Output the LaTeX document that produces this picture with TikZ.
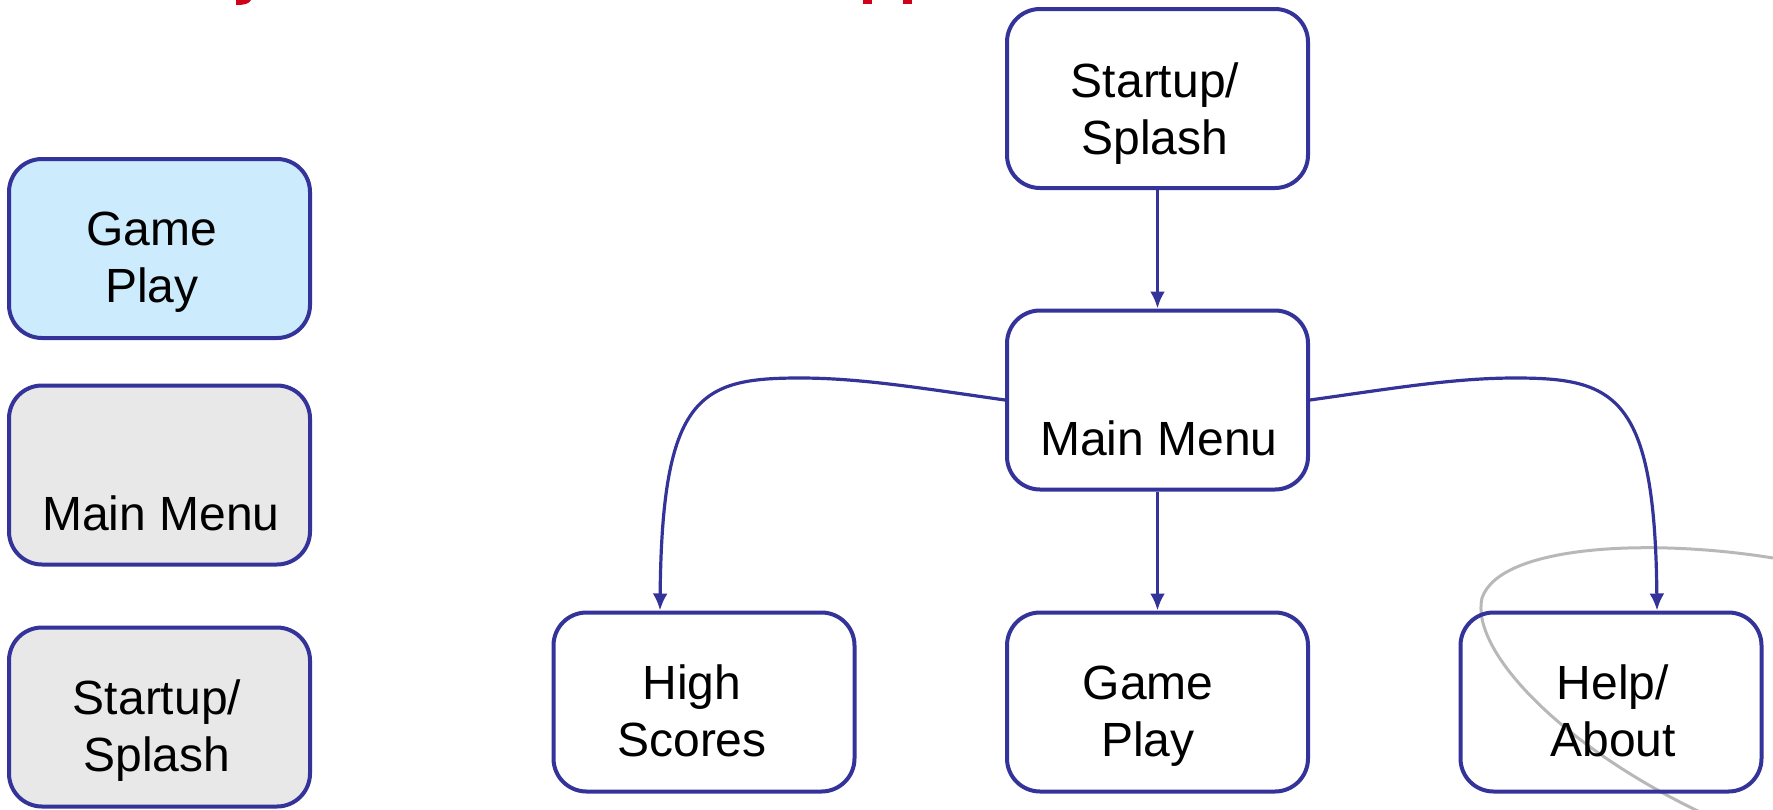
\documentclass[tikz,border=0pt]{standalone}
\usepackage{fontspec}
\setmainfont{Liberation Sans}
\usetikzlibrary{arrows.meta}
\definecolor{bblue}{HTML}{333399}
\definecolor{lblue}{HTML}{CCEBFC}
\definecolor{lgray}{HTML}{E8E8E8}
\definecolor{tred}{HTML}{D0021B}
\newcommand{\twoline}[2]{\begin{tabular}[t]{@{}c@{}}#1\\#2\end{tabular}}
\begin{document}
\begin{tikzpicture}[x=1pt,y=-1pt,
  box/.style={draw=bblue, line width=4pt, rounded corners=33pt, minimum width=301pt, minimum height=179pt, inner sep=0pt},
  lbl/.style={anchor=base, inner sep=0pt, font=\fontsize{48}{57}\selectfont},
  conn/.style={draw=bblue, line width=3.2pt, -{Latex[length=17pt,width=15pt]}},
  swoosh/.style={draw=black!28, line width=3pt},
  frag/.style={fill=tred, draw=none}]
\useasboundingbox (0,0) rectangle (1773,809);
% background swoosh
\draw[swoosh] (1773,558) .. controls (1650,538) and (1500,545) .. (1482,598) .. controls (1470,650) and (1560,745) .. (1700,812);
% cut-off title fragments
\fill[frag] (236,0) -- (251,0) .. controls (249,4) and (244,5) .. (236,5) -- cycle;
\fill[frag] (863,0) rectangle (872,4);
\fill[frag] (903,0) rectangle (912,4);
% left legend boxes
\node[box, fill=lblue] (lgp) at (159.5,248.5) {};
\node[box, fill=lgray] (lmm) at (159.5,475) {};
\node[box, fill=lgray] (lss) at (159.5,717) {};
% flow boxes
\node[box] (ss) at (1157.5,98.5) {};
\node[box] (mm) at (1157.5,400) {};
\node[box] (hs) at (704,702) {};
\node[box] (gp) at (1157.5,702) {};
\node[box] (ha) at (1611,702) {};
% labels
\node[lbl] (tlgp) at (152,245) {\twoline{Game}{Play}};
\node[lbl] (tlmm) at (161,530) {Main Menu};
\node[lbl] (tlss) at (157,714) {\twoline{Startup/}{Splash}};
\node[lbl] (tss) at (1155,97) {\twoline{Startup/}{Splash}};
\node[lbl] (tmm) at (1159,455) {Main Menu};
\node[lbl] (ths) at (692,699) {\twoline{High}{Scores}};
\node[lbl] (tgp) at (1148,699) {\twoline{Game}{Play}};
\node[lbl] (tha) at (1613,699) {\twoline{Help/}{About}};
% connectors
\draw[conn] (ss.south) -- (mm.north);
\draw[conn] (mm.south) -- (gp.north);
\draw[conn] (mm.west) .. controls (920,388) and (860,378) .. (800,378) .. controls (700,378) and (662,395) .. ([xshift=-44pt]hs.north);
\draw[conn] (mm.east) .. controls (1395,388) and (1455,378) .. (1515,378) .. controls (1615,378) and (1655,395) .. ([xshift=46pt]ha.north);
\end{tikzpicture}
\end{document}
